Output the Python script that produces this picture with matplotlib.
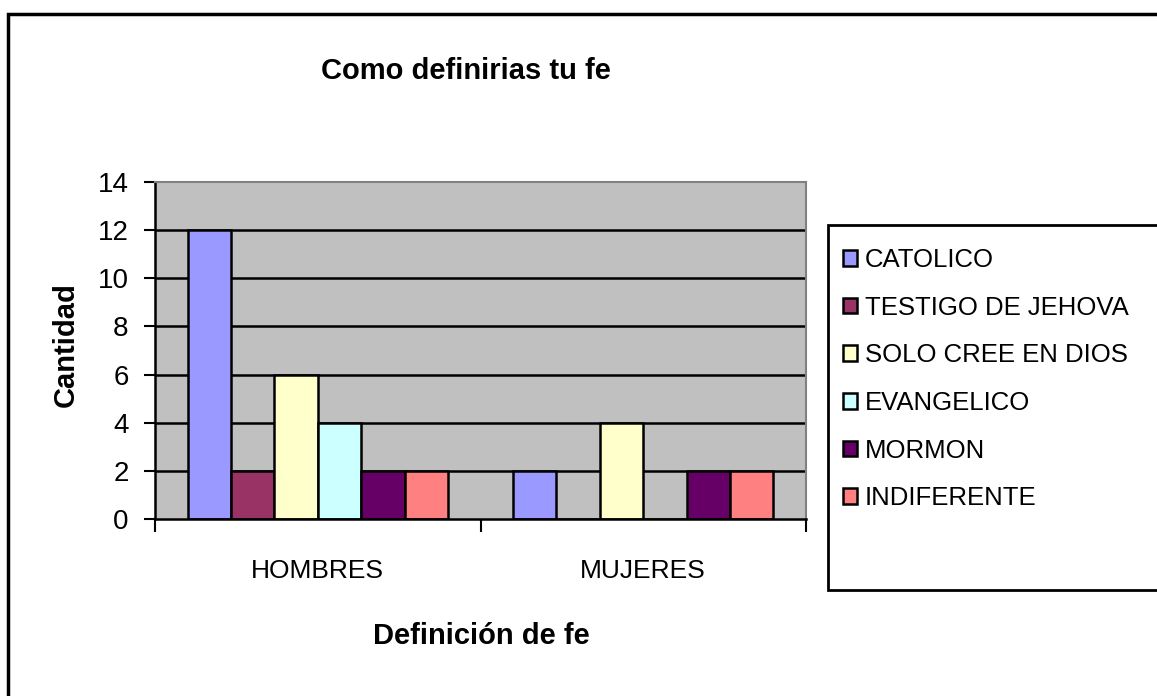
import matplotlib
matplotlib.use("Agg")
import matplotlib.pyplot as plt
from matplotlib.patches import Rectangle
import numpy as np

plt.rcParams['font.family'] = ['Liberation Sans', 'DejaVu Sans']

categories = ["HOMBRES", "MUJERES"]
series_names = ["CATOLICO", "TESTIGO DE JEHOVA", "SOLO CREE EN DIOS",
                "EVANGELICO", "MORMON", "INDIFERENTE"]
values = {
    "CATOLICO": [12, 2],
    "TESTIGO DE JEHOVA": [2, 0],
    "SOLO CREE EN DIOS": [6, 4],
    "EVANGELICO": [4, 0],
    "MORMON": [2, 2],
    "INDIFERENTE": [2, 2],
}
colors = ["#9999FF", "#993366", "#FFFFCC", "#CCFFFF", "#660066", "#FF8080"]
yticks = [0, 2, 4, 6, 8, 10, 12, 14]

W, H = 1157, 696
fig = plt.figure(figsize=(W / 100, H / 100), dpi=100)

def fx(px):
    return px / W

def fy(py):
    return 1 - py / H

# outer chart border
fig.patches.append(Rectangle((fx(8), fy(730)), fx(1200), fy(14) - fy(730),
                             transform=fig.transFigure, fill=False,
                             edgecolor="black", linewidth=2.5))

ax = fig.add_axes([fx(155), fy(519), fx(806) - fx(155), fy(182) - fy(519)])
ax.set_facecolor("#C0C0C0")
ax.set_xlim(-0.5, len(categories) - 0.5)
ax.set_ylim(0, 14)

n = len(series_names)
bw = 1.0 / (n + 1.5)
x = np.arange(len(categories))
handles = []
for i, (name, c) in enumerate(zip(series_names, colors)):
    b = ax.bar(x + (i - (n - 1) / 2) * bw, values[name], width=bw, color=c,
               edgecolor="black", linewidth=1.8, zorder=3, label=name)
    handles.append(b)

for yv in yticks[1:-1]:
    ax.axhline(yv, color="black", linewidth=1.8, zorder=1)

for s in ["top", "right"]:
    ax.spines[s].set_color("#808080")
    ax.spines[s].set_linewidth(1.5)
for s in ["left", "bottom"]:
    ax.spines[s].set_color("black")
    ax.spines[s].set_linewidth(1.8)
ax.spines["bottom"].set_zorder(5)

ax.set_yticks(yticks)
ax.set_yticklabels([str(v) for v in yticks])
ax.tick_params(axis="y", direction="out", length=8, width=1.5, pad=11,
               labelsize=20, color="black")

ax.set_xticks(np.arange(len(categories) + 1) - 0.5)
ax.set_xticklabels([])
ax.tick_params(axis="x", which="major", direction="out", length=9, width=1.5)
ax.set_xticks(x, minor=True)
ax.set_xticklabels(categories, minor=True)
ax.tick_params(axis="x", which="minor", length=0, pad=29, labelsize=19)

fig.text(fx(466), fy(71), "Como definirias tu fe", ha="center", va="center",
         fontsize=21, fontweight="bold")
fig.text(fx(481), fy(636), "Definición de fe", ha="center", va="center",
         fontsize=21, fontweight="bold")
fig.text(fx(66), fy(345), "Cantidad", ha="center", va="center",
         rotation=90, fontsize=21, fontweight="bold")

# legend box
fig.patches.append(Rectangle((fx(828), fy(590)), fx(400), fy(225) - fy(590),
                             transform=fig.transFigure, fill=True,
                             facecolor="white", edgecolor="black",
                             linewidth=2, zorder=0))

leg = fig.legend(handles=handles, labels=series_names, loc="upper left",
                 bbox_to_anchor=(fx(843), fy(248)), frameon=False,
                 fontsize=18.5, handlelength=0.55, handleheight=0.55,
                 handletextpad=0.3, labelspacing=0.92, borderaxespad=0,
                 borderpad=0)

fig.savefig("out.png", dpi=100)
